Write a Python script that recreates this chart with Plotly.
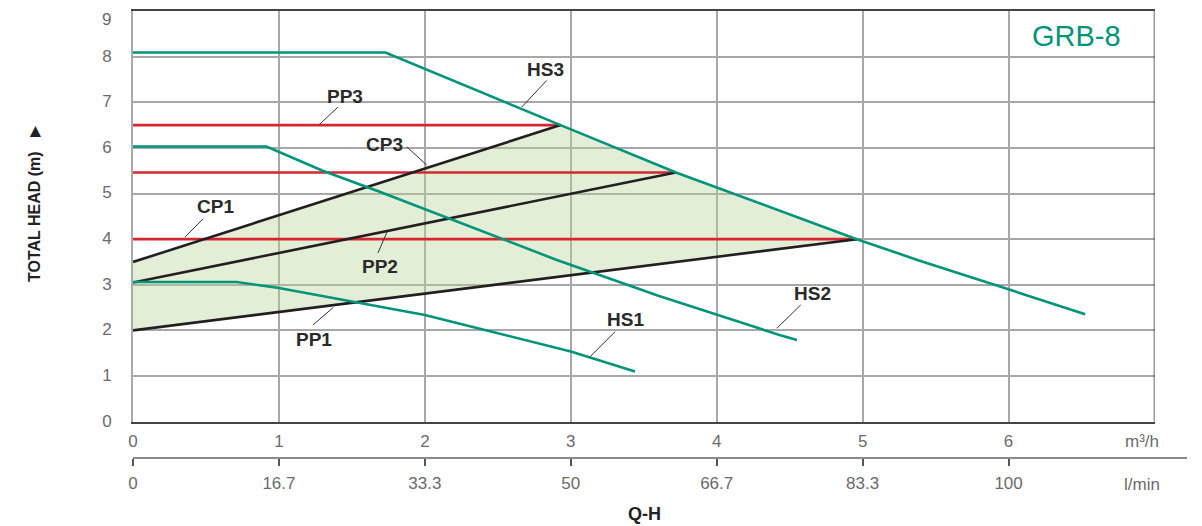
import plotly.graph_objects as go

# ---------------- data ----------------
# Pump curves HS1..HS3 : flow Q (m3/h) vs head H (m)
hs3_q = [0, 1.73, 2.93, 3.73, 4.96, 5.38, 6.0, 6.525]
hs3_h = [8.09, 8.09, 6.5, 5.45, 4.0, 3.54, 2.9, 2.355]
hs2_q = [0, 0.915, 1.3, 1.69, 2.9, 3.6, 4.43, 4.55]
hs2_h = [6.03, 6.03, 5.5, 5.04, 3.55, 2.76, 1.9, 1.79]
hs1_q = [0, 0.71, 1.0, 1.53, 2.0, 2.5, 3.0, 3.44]
hs1_h = [3.06, 3.06, 2.93, 2.62, 2.34, 1.94, 1.54, 1.10]

# Constant-pressure (red) lines: head and end flow
pp_h = [4.0, 5.46, 6.5]
pp_q_end = [4.96, 3.72, 2.93]

# Proportional-pressure (black) lines: start head at Q=0, end point
cp_h_start = [2.0, 3.05, 3.5]
cp_q_end = [4.96, 3.72, 2.93]
cp_h_end = [4.0, 5.46, 6.5]

# axis ticks
q_ticks = [0, 1, 2, 3, 4, 5, 6]
lmin_ticks = [q * 1000 / 60 for q in q_ticks]
lmin_text = ["0", "16.7", "33.3", "50", "66.7", "83.3", "100"]
h_ticks = list(range(0, 10))
h_text = [str(v) for v in h_ticks[:-1]] + [""]   # top label drawn separately

# curve labels: text, text position, leader start, leader end (data units)
labels = [
    ("HS3", 2.824, 7.71, 2.835, 7.478, 2.664, 6.895),
    ("PP3", 1.453, 7.12, 1.405, 6.895, 1.275, 6.507),
    ("CP3", 1.720, 6.068, 1.876, 6.024, 2.013, 5.623),
    ("CP1", 0.562, 4.708, 0.480, 4.445, 0.356, 4.044),
    ("PP2", 1.693, 3.393, 1.679, 3.700, 1.741, 4.160),
    ("PP1", 1.240, 1.792, 1.234, 2.121, 1.371, 2.500),
    ("HS2", 4.655, 2.80, 4.576, 2.559, 4.412, 2.048),
    ("HS1", 3.372, 2.23, 3.304, 1.974, 3.128, 1.412),
]

GREEN = "#00957a"
RED = "#d6262f"
BLACK = "#231f20"
FONT = "Liberation Sans"

# ---------------- figure ----------------
fig = go.Figure()

# shaded operating area
lo, hi = 0, 2  # lower and upper black line indices
fill_q = [0, cp_q_end[lo]]
fill_h = [cp_h_start[lo], cp_h_end[lo]]
seg = [(q, h) for q, h in zip(hs3_q, hs3_h) if cp_q_end[hi] <= q <= cp_q_end[lo]]
for q, h in sorted(seg, reverse=True):
    fill_q.append(q)
    fill_h.append(h)
fill_q += [cp_q_end[hi], 0, 0]
fill_h += [cp_h_end[hi], cp_h_start[hi], cp_h_start[lo]]
fig.add_trace(go.Scatter(x=fill_q, y=fill_h, fill="toself", mode="none",
                         fillcolor="rgba(178,214,148,0.38)", hoverinfo="skip",
                         showlegend=False))

# red constant-pressure lines
for h, qe in zip(pp_h, pp_q_end):
    fig.add_trace(go.Scatter(x=[0, qe], y=[h, h], mode="lines",
                             line=dict(color=RED, width=2.6), showlegend=False))

# black proportional lines
for hs, qe, he in zip(cp_h_start, cp_q_end, cp_h_end):
    fig.add_trace(go.Scatter(x=[0, qe], y=[hs, he], mode="lines",
                             line=dict(color=BLACK, width=2.6), showlegend=False))

# green pump curves
for q, h in [(hs1_q, hs1_h), (hs2_q, hs2_h), (hs3_q, hs3_h)]:
    fig.add_trace(go.Scatter(x=q, y=h, mode="lines",
                             line=dict(color=GREEN, width=2.6),
                             showlegend=False))

# invisible trace carrying the secondary (l/min) axis
fig.add_trace(go.Scatter(x=[0], y=[0], xaxis="x2", yaxis="y2", mode="markers",
                         marker=dict(opacity=0), hoverinfo="skip",
                         showlegend=False))

# labels with leader lines
for t, tx, ty, x0, y0, x1, y1 in labels:
    fig.add_shape(type="line", x0=x0, y0=y0, x1=x1, y1=y1, xref="x", yref="y",
                  line=dict(color="#333333", width=1))
    fig.add_annotation(x=tx, y=ty, text="<b>" + t + "</b>", showarrow=False,
                       xref="x", yref="y",
                       font=dict(family=FONT, size=19, color="#2a2a2a"))

# right border
fig.add_shape(type="line", x0=7, x1=7, y0=0, y1=9, xref="x", yref="y",
              line=dict(color="#3a3a3a", width=1.5))

# the page body adds an 8px margin, so the figure is drawn from (8, 8)
OFF = 8
W, H = 1202 - OFF, 526 - OFF
ml = 133 - OFF
mr = W - (1187 - OFF)
mt = 11 - OFF
mb = H - (458 - OFF)
pw = W - ml - mr
ph = H - mt - mb
x_dom_end = (1154.5 - 133) / pw
y_dom_start = (458 - 421.7) / ph
q_max2 = 7 / x_dom_end  # m3/h at the end of the secondary axis

fig.update_layout(
    width=W, height=H,
    margin=dict(l=ml, r=mr, t=mt, b=mb, autoexpand=False),
    paper_bgcolor="white", plot_bgcolor="white",
    font=dict(family=FONT, color="#6b6b6b"),
    xaxis=dict(domain=[0, x_dom_end], range=[0, 7], tickvals=q_ticks,
               showgrid=True, gridcolor="#a8a8a8", gridwidth=1.5,
               showline=True, linecolor="#444444", linewidth=1.5, mirror=True,
               zeroline=False, ticks="", ticklabelstandoff=3, automargin=False,
               tickfont=dict(size=17, color="#6b6b6b")),
    xaxis2=dict(domain=[0, 1], range=[0, q_max2 * 1000 / 60],
                tickvals=lmin_ticks, ticktext=lmin_text,
                anchor="free", position=0, side="bottom",
                showgrid=False, zeroline=False, automargin=False,
                showline=True, linecolor="#8a8a8a", linewidth=2,
                ticks="outside", ticklen=7, tickwidth=1.5, tickcolor="#555555",
                ticklabelstandoff=3,
                tickfont=dict(size=17, color="#6b6b6b")),
    yaxis=dict(domain=[y_dom_start, 1], range=[0, 9], tickvals=h_ticks,
               ticktext=h_text,
               showgrid=True, gridcolor="#a8a8a8", gridwidth=1.5,
               showline=True, linecolor="#aaaaaa", linewidth=2,
               zeroline=False, ticks="", ticklabelstandoff=16, automargin=False,
               ticklabelshift=-1,
               tickfont=dict(size=17, color="#6b6b6b")),
    yaxis2=dict(domain=[0, 0.01], visible=False, range=[0, 1]),
)

# unit and axis titles (positions in screen pixels of the reference)
ann_px = [
    dict(text="m³/h", px=1142, py=441, size=17, color="#6b6b6b", angle=0, ya="middle"),
    dict(text="l/min", px=1142, py=484, size=17, color="#6b6b6b", angle=0, ya="middle"),
    dict(text="<b>Q-H</b>", px=644, py=514, size=18, color="#222222", angle=0, ya="middle"),
    dict(text="<b>TOTAL HEAD (m)</b>", px=35, py=217, size=16, color="#222222", angle=-90, ya="middle"),
    dict(text="▲", px=35, py=131, size=19, color="#222222", angle=0, ya="middle"),
    dict(text="GRB-8", px=1076, py=36, size=29, color=GREEN, angle=0, ya="middle"),
    dict(text=str(h_ticks[-1]), px=106.5, py=8, size=17, color="#6b6b6b", angle=0, ya="top"),
]
for a in ann_px:
    fx = a["px"] - OFF
    fy = a["py"] - OFF
    fig.add_annotation(x=(fx - ml) / pw, y=(H - mb - fy) / ph,
                       xref="paper", yref="paper", text=a["text"],
                       showarrow=False, textangle=a["angle"],
                       xanchor="center", yanchor=a["ya"],
                       font=dict(family=FONT, size=a["size"], color=a["color"]))

fig.write_html("out.html")
